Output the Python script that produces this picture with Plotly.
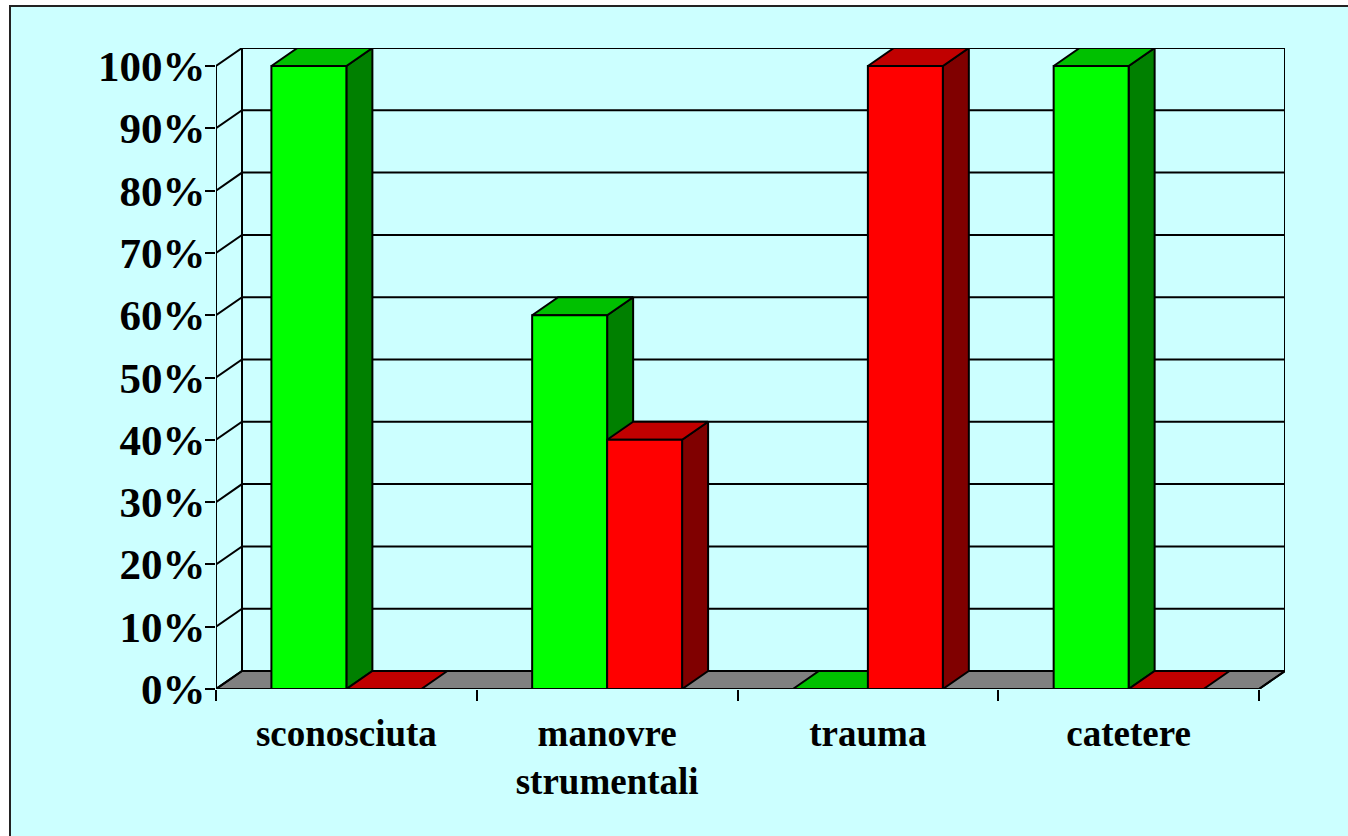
import plotly.graph_objects as go

categories = ["sconosciuta", "manovre<br>strumentali", "trauma", "catetere"]
green_values = [100, 60, 0, 100]
red_values = [0, 40, 100, 0]
y_ticks = [0, 10, 20, 30, 40, 50, 60, 70, 80, 90, 100]
y_labels = ["0%", "10%", "20%", "30%", "40%", "50%", "60%", "70%", "80%", "90%", "100%"]

GREEN = ("#00FF00", "#008000", "#00C000")
RED = ("#FF0000", "#800000", "#C00000")
FLOOR = "#808080"
BG = "#CCFFFF"
FONT = "Liberation Serif"

W, H = 1348, 836
L, T = 216, 48
PW, PH = 1069, 641
CAT_PX = 260.75
V_PX = 6.23
DX = 26 / CAT_PX
DY = 18 / V_PX
XMAX = len(categories) + DX
YMAX = 100 + DY
BARGAP = 0.425
BW = (1 - BARGAP) / 2
XR = [0, XMAX]
YR = [0, YMAX]


def poly(xs, ys, fill=None, width=2):
    return go.Scatter(
        x=xs, y=ys, mode="lines", line=dict(color="black", width=width),
        fill="toself" if fill else "none", fillcolor=fill,
        cliponaxis=False, hoverinfo="skip", showlegend=False,
    )


fig = go.Figure()
n = len(categories)

# floor
fig.add_trace(poly([0, n, n + DX, DX, 0], [0, 0, DY, DY, 0], FLOOR))
# side wall and back wall grid
for v in y_ticks[1:]:
    fig.add_trace(poly([0, DX, n + DX], [v, v + DY, v + DY]))
fig.add_trace(poly([0, 0], [0, 100]))
fig.add_trace(poly([DX, DX], [DY, 100 + DY]))
fig.add_trace(poly([n + DX, n + DX], [DY, 100 + DY]))
fig.add_trace(poly([0, DX, n + DX, n], [0, DY, DY, 0]))

# depth faces
for i in range(n):
    for off, vals, col in ((-BW, green_values, GREEN), (0, red_values, RED)):
        x0 = i + 0.5 + off
        x1 = x0 + BW
        v = vals[i]
        if v > 0:
            fig.add_trace(poly([x1, x1 + DX, x1 + DX, x1, x1], [0, DY, v + DY, v, 0], col[1]))
        fig.add_trace(poly([x0, x1, x1 + DX, x0 + DX, x0], [v, v, v + DY, v + DY, v], col[2]))

# front faces
pos = [i + 0.5 for i in range(n)]
fig.add_trace(go.Bar(x=pos, y=green_values, xaxis="x2", yaxis="y2", showlegend=False,
                     marker=dict(color=GREEN[0], line=dict(color="black", width=2))))
fig.add_trace(go.Bar(x=pos, y=red_values, xaxis="x2", yaxis="y2", showlegend=False,
                     marker=dict(color=RED[0], line=dict(color="black", width=2))))

fig.update_layout(
    width=W, height=H, autosize=False,
    margin=dict(l=L, r=W - L - PW, t=T, b=H - T - PH, pad=0),
    paper_bgcolor="white", plot_bgcolor="rgba(0,0,0,0)",
    barmode="group", bargap=BARGAP, bargroupgap=0, showlegend=False,
    xaxis=dict(range=XR, tickmode="array", tickvals=list(range(n + 1)), ticktext=[""] * (n + 1),
               ticks="outside", ticklen=11, tickwidth=2, tickcolor="black",
               showgrid=False, zeroline=False, showline=False),
    yaxis=dict(range=YR, tickmode="array", tickvals=y_ticks, ticktext=y_labels,
               ticks="outside", ticklen=10, tickwidth=2, tickcolor="black",
               ticklabelstandoff=-9,
               tickfont=dict(family=FONT, size=43, color="black", weight="bold"),
               showgrid=False, zeroline=False, showline=False),
    xaxis2=dict(range=XR, overlaying="x", anchor="y2", side="bottom",
                tickmode="array", tickvals=pos, ticktext=categories, ticks="", ticklen=0,
                ticklabelstandoff=19,
                tickfont=dict(family=FONT, size=37, color="black", weight="bold"),
                showgrid=False, zeroline=False, showline=False),
    yaxis2=dict(range=YR, overlaying="y", anchor="x2", visible=False,
                showgrid=False, zeroline=False),
    shapes=[dict(type="rect", layer="below", xref="paper", yref="paper",
                 x0=(10 - L) / PW, x1=(W + 20 - L) / PW,
                 y0=1 - (H + 20 - T) / PH, y1=1 - (6 - T) / PH,
                 fillcolor=BG, line=dict(color="#222222", width=2))],
)

fig.write_html("out.html", post_script="document.body.style.margin='0';document.body.style.overflow='hidden';",
               config={"displayModeBar": False})
